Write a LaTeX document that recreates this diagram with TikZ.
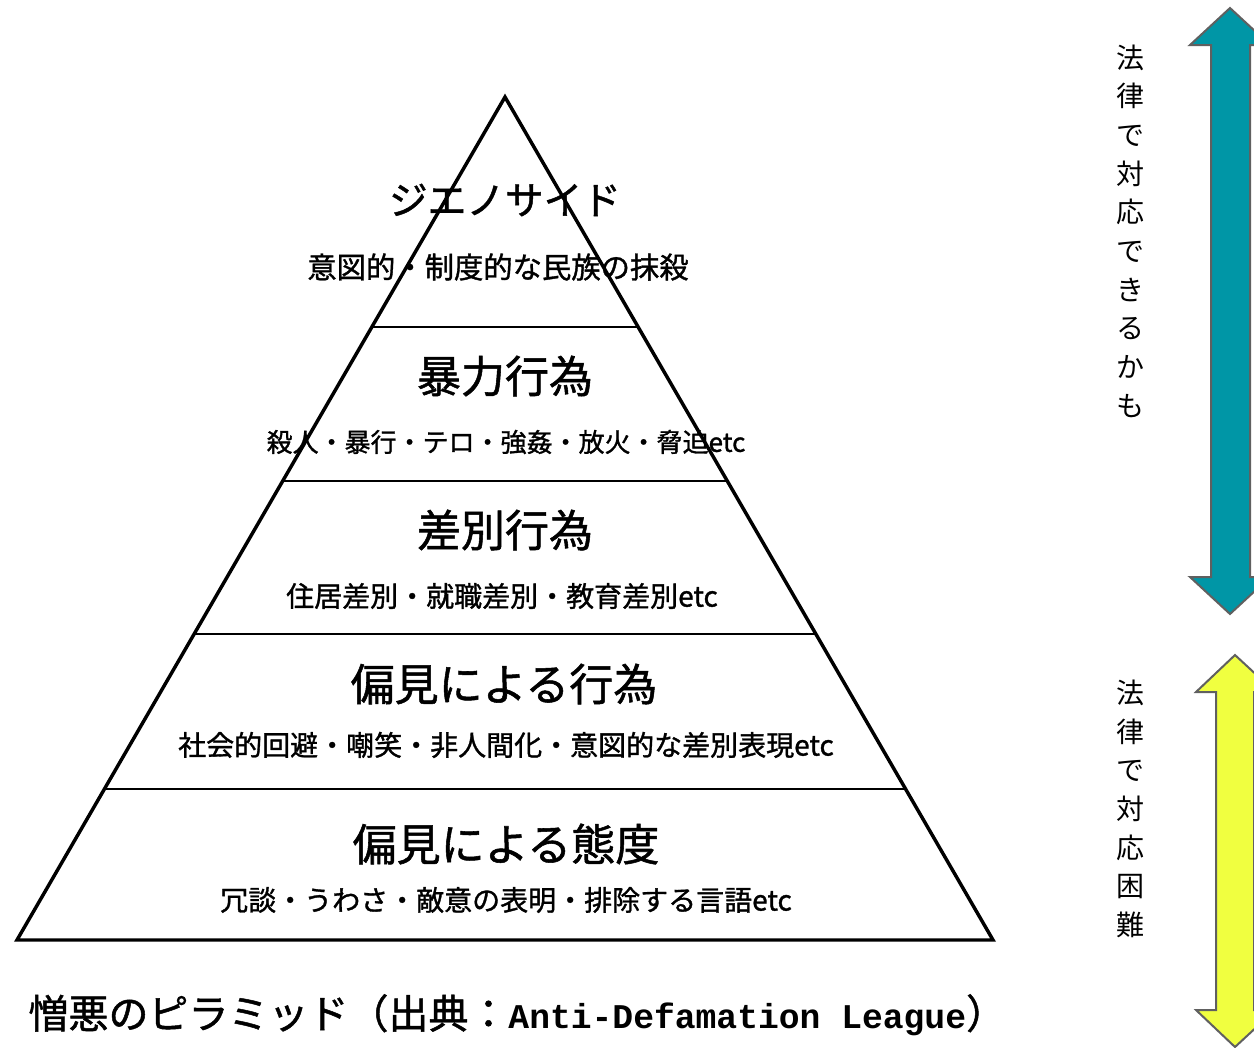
\documentclass[tikz,border=0pt]{standalone}
\usepackage{fontspec}
\usepackage{tikz}
\usetikzlibrary{calc}
\newfontfamily\jpfont{Noto Sans CJK JP}
\newfontfamily\jpmed[FakeBold=1.2]{Noto Sans CJK JP}
\newfontfamily\capmono{Liberation Mono}
\tikzset{every picture/.style={line width=0.75pt}}
\tikzset{
  pyrline/.style={line width=2.6, line join=miter},
  tierline/.style={line width=1.4},
  tiertitle/.style={font=\jpmed\fontsize{33}{36}\selectfont, inner sep=0pt},
  tiersub/.style={font=\jpmed\fontsize{21}{24}\selectfont, inner sep=0pt},
  lawtext/.style={font=\jpfont\fontsize{21}{29}\selectfont, align=center, inner sep=0pt},
  fatarrow/.style={draw={rgb, 255:red, 96; green, 96; blue, 96}, line width=1.5, line join=miter},
}

\begin{document}
\begin{tikzpicture}[x=0.75pt,y=0.75pt,yscale=-1,xscale=1]
		\useasboundingbox (0,0) rectangle (1254,1047);
		\clip (0,0) rectangle (1254,1047);
		
		%Shape: Triangle [id:pyramid] 
		\coordinate (apex) at (505,97);
		\coordinate (bl) at (17,940);
		\coordinate (br) at (993,940);
		\draw [pyrline]  (apex) -- (br) -- (bl) -- cycle ;
		
		%Straight Lines [id:tiers] 
		\foreach \t/\n in {0.2728/a,0.4555/b,0.6370/c,0.8209/d}{
			\coordinate (l\n) at ($(apex)!\t!(bl)$);
			\coordinate (r\n) at ($(apex)!\t!(br)$);
			\draw [tierline]  (l\n) -- (r\n) ;
		}
		
		%Text Nodes [id:tiertext] 
		\node [tiertitle, font=\jpmed\fontsize{29}{32}\selectfont] (genocide) at (505,200) {ジエノサイド};
		\node [tiersub, font=\jpmed\fontsize{22}{24}\selectfont] (genocideSub) at (498,267) {意図的・制度的な民族の抹殺};
		
		\node [tiertitle] (violence) at (505,376) {暴力行為};
		\node [tiersub, font=\jpmed\fontsize{19.5}{22}\selectfont] (violenceSub) at (506,442) {殺人・暴行・テロ・強姦・放火・脅迫etc};
		
		\node [tiertitle] (discrim) at (505,530) {差別行為};
		\node [tiersub] (discrimSub) at (502,596) {住居差別・就職差別・教育差別etc};
		
		\node [tiertitle] (biasAct) at (504,684) {偏見による行為};
		\node [tiersub] (biasActSub) at (506,745) {社会的回避・嘲笑・非人間化・意図的な差別表現etc};
		
		\node [tiertitle] (biasAtt) at (506,844) {偏見による態度};
		\node [tiersub] (biasAttSub) at (506,900) {冗談・うわさ・敵意の表明・排除する言語etc};
		
		%Text Node [id:caption] 
		\node [anchor=west, inner sep=0pt] (caption) at (28,1015) {{\jpmed\fontsize{30}{34}\selectfont 憎悪のピラミッド（出典：}{\capmono\bfseries\fontsize{26}{30}\selectfont Anti-Defamation League}{\jpmed\fontsize{30}{34}\selectfont ）}};
		
		%Shape: Up Down Arrow [id:lawarrow1] 
		\draw [fatarrow, fill={rgb, 255:red, 0; green, 150; blue, 166 }  ,fill opacity=1 ] (1230,8) -- (1270,45) -- (1250,45) -- (1250,577) -- (1270,577) -- (1230,614) -- (1190,577) -- (1211,577) -- (1211,45) -- (1190,45) -- cycle ;
		%Shape: Up Down Arrow [id:lawarrow2] 
		\draw [fatarrow, fill={rgb, 255:red, 240; green, 255; blue, 64 }  ,fill opacity=1 ] (1235,655) -- (1275,692) -- (1254,692) -- (1254,1010) -- (1275,1010) -- (1235,1047) -- (1196,1010) -- (1216,1010) -- (1216,692) -- (1196,692) -- cycle ;
		
		%Text Nodes [id:lawtext] 
		\node [lawtext] (lawYes) at (1130,231) {法\\律\\で\\対\\応\\で\\き\\る\\か\\も};
		\node [lawtext] (lawNo) at (1130,809) {法\\律\\で\\対\\応\\困\\難};
		
		
		
		
\end{tikzpicture}
\end{document}
